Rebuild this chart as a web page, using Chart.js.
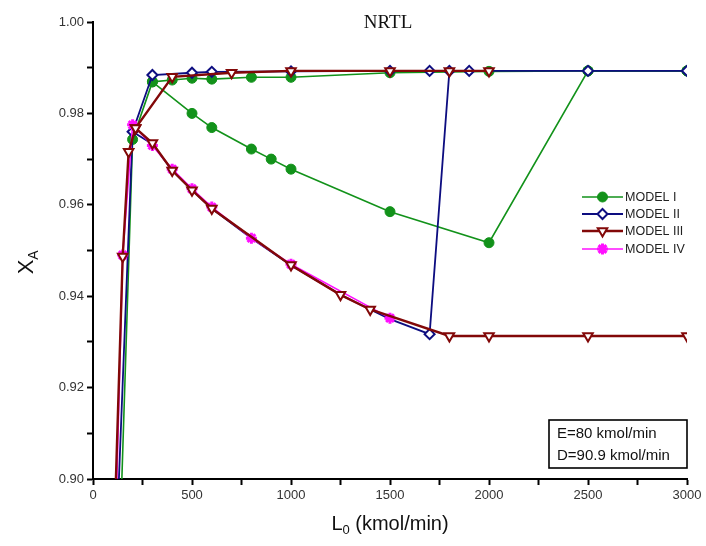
<!DOCTYPE html>
<html lang="en">
<head>
    <meta charset="UTF-8">
    <title>NRTL</title>
    <style>
        html, body { margin: 0; padding: 0; background: #fff; }
        .wrap { position: relative; width: 706px; height: 546px; }
    </style>
</head>
<body>
    <div class="wrap">
        <canvas id="nrtl-chart" width="706" height="546"></canvas>
    </div>

    <script src="https://cdn.jsdelivr.net/npm/chart.js"></script>
    <script>
        // Values (L0 in kmol/min, XA)
        const xTicks = [0, 500, 1000, 1500, 2000, 2500, 3000];
        const yTicks = [0.90, 0.92, 0.94, 0.96, 0.98, 1.00];

        // MODEL I
        const m1UpperL = [145, 200, 300, 400, 500, 600, 800, 1000, 1500, 2000, 2500, 3000];
        const m1UpperX = [0.899, 0.9743, 0.9869, 0.9873, 0.9877, 0.9875, 0.9879, 0.9879, 0.9889, 0.9892, 0.9893, 0.9893];
        const m1LowerL = [300, 500, 600, 800, 900, 1000, 1500, 2000, 2500, 3000];
        const m1LowerX = [0.9869, 0.9800, 0.9769, 0.9722, 0.9700, 0.9678, 0.9585, 0.9517, 0.9893, 0.9893];

        // MODEL II
        const m2UpperL = [130, 200, 300, 500, 600, 1000, 1500, 1700, 1900, 2500, 3000];
        const m2UpperX = [0.899, 0.9760, 0.9884, 0.9889, 0.9891, 0.9892, 0.9893, 0.9893, 0.9893, 0.9893, 0.9893];
        const m2LowerL = [200, 300, 400, 500, 600, 800, 1000, 1250, 1400, 1500, 1700, 1800];
        const m2LowerX = [0.9760, 0.9733, 0.9675, 0.9632, 0.9592, 0.9527, 0.9468, 0.9403, 0.9371, 0.9350, 0.9317, 0.9893];

        // MODEL III
        const m3UpperL = [115, 150, 180, 215, 400, 700, 1000, 1500, 1800, 2000];
        const m3UpperX = [0.899, 0.9487, 0.9716, 0.9768, 0.9880, 0.9889, 0.9893, 0.9893, 0.9893, 0.9893];
        const m3LowerL = [215, 300, 400, 500, 600, 1000, 1250, 1400, 1800, 2000, 2500, 3000];
        const m3LowerX = [0.9768, 0.9735, 0.9675, 0.9632, 0.9592, 0.9468, 0.9403, 0.9371, 0.9313, 0.9313, 0.9313, 0.9313];

        // MODEL IV
        const m4L = [120, 150, 200, 300, 400, 500, 600, 800, 1000, 1500];
        const m4X = [0.899, 0.9490, 0.9775, 0.9730, 0.9678, 0.9635, 0.9595, 0.9527, 0.9470, 0.9352];

        const legendLabels = ['MODEL I', 'MODEL II', 'MODEL III', 'MODEL IV'];

        const GREEN = '#12921a';
        const NAVY = '#0d0d80';
        const BROWN = '#820808';
        const MAGENTA = '#ff10ff';

        function toPoints(ls, xs) {
            return ls.map((l, i) => ({ x: l, y: xs[i] }));
        }

        // hide markers that fall below the plotted range
        function visibleRadius(r) {
            return ctx => (ctx.raw && ctx.raw.y < 0.9) ? 0 : r;
        }

        const styles = [
            { color: GREEN, pointStyle: 'circle', rotation: 0, radius: 5, fill: GREEN, lineWidth: 1.6, pointBorder: 1 },
            { color: NAVY, pointStyle: 'rectRot', rotation: 0, radius: 5, fill: '#fff', lineWidth: 1.8, pointBorder: 2 },
            { color: BROWN, pointStyle: 'triangle', rotation: 180, radius: 5.5, fill: '#fff', lineWidth: 2.4, pointBorder: 2 },
            { color: MAGENTA, pointStyle: 'star', rotation: 0, radius: 5.5, fill: MAGENTA, lineWidth: 1.6, pointBorder: 3 }
        ];

        function makeSet(label, data, s, order, radius) {
            return {
                label: label,
                data: data,
                showLine: true,
                borderColor: s.color,
                backgroundColor: s.fill,
                borderWidth: s.lineWidth,
                pointStyle: s.pointStyle,
                rotation: s.rotation,
                pointRadius: radius || visibleRadius(s.radius),
                pointBackgroundColor: s.fill,
                pointBorderColor: s.color,
                pointBorderWidth: s.pointBorder,
                pointHoverRadius: s.radius,
                tension: 0,
                order: order
            };
        }

        const datasets = [
            makeSet('MODEL III', toPoints(m3LowerL, m3LowerX), styles[2], 1),
            makeSet('MODEL III', toPoints(m3UpperL, m3UpperX), styles[2], 1),
            makeSet('MODEL IV', toPoints(m4L, m4X), styles[3], 2),
            makeSet('MODEL II', toPoints(m2LowerL, m2LowerX), styles[1], 3,
                ctx => (ctx.raw && ctx.raw.x >= 1700) ? styles[1].radius : 0),
            makeSet('MODEL II', toPoints(m2UpperL, m2UpperX), styles[1], 3),
            makeSet('MODEL I', toPoints(m1UpperL, m1UpperX), styles[0], 4),
            makeSet('MODEL I', toPoints(m1LowerL, m1LowerX), styles[0], 4)
        ];

        // titles, legend and the note box
        const decorations = {
            id: 'decorations',
            afterDraw(chart) {
                const ctx = chart.ctx;
                const area = chart.chartArea;
                ctx.save();
                ctx.fillStyle = '#111';

                // title
                ctx.font = '19px "Liberation Serif", serif';
                ctx.textAlign = 'center';
                ctx.textBaseline = 'middle';
                ctx.fillText('NRTL', (area.left + area.right) / 2 - 2, 23);

                // x axis title with subscript
                ctx.textAlign = 'left';
                ctx.textBaseline = 'alphabetic';
                const big = '20px "Liberation Sans", Arial, sans-serif';
                const small = '13px "Liberation Sans", Arial, sans-serif';
                ctx.font = big;
                const wL = ctx.measureText('L').width;
                const wRest = ctx.measureText(' (kmol/min)').width;
                ctx.font = small;
                const w0 = ctx.measureText('0').width;
                let x = (area.left + area.right) / 2 - (wL + w0 + wRest) / 2;
                const by = 530;
                ctx.font = big;
                ctx.fillText('L', x, by);
                ctx.font = small;
                ctx.fillText('0', x + wL, by + 4);
                ctx.font = big;
                ctx.fillText(' (kmol/min)', x + wL + w0, by);

                // y axis title X_A
                ctx.save();
                ctx.translate(33, 262);
                ctx.rotate(-Math.PI / 2);
                ctx.font = '22px "Liberation Sans", Arial, sans-serif';
                const wX = ctx.measureText('X').width;
                ctx.fillText('X', -wX / 2 - 5, 0);
                ctx.font = '14px "Liberation Sans", Arial, sans-serif';
                ctx.fillText('A', wX / 2 - 5, 5);
                ctx.restore();

                // legend
                const rows = [197, 214, 231, 249];
                styles.forEach((s, i) => {
                    const y = rows[i];
                    ctx.strokeStyle = s.color;
                    ctx.lineWidth = s.lineWidth;
                    ctx.beginPath();
                    ctx.moveTo(582, y);
                    ctx.lineTo(623, y);
                    ctx.stroke();
                    ctx.fillStyle = s.fill;
                    ctx.lineWidth = s.pointBorder;
                    Chart.helpers.drawPoint(ctx, {
                        pointStyle: s.pointStyle,
                        rotation: s.rotation,
                        radius: s.radius,
                        borderWidth: s.pointBorder
                    }, 602.5, y);
                    ctx.fillStyle = '#222';
                    ctx.font = '12.5px "Liberation Sans", Arial, sans-serif';
                    ctx.textBaseline = 'middle';
                    ctx.fillText(legendLabels[i], 625, y + 1);
                });

                // note box
                ctx.strokeStyle = '#000';
                ctx.lineWidth = 1.6;
                ctx.strokeRect(549, 420, 138, 48);
                ctx.fillStyle = '#111';
                ctx.font = '15px "Liberation Sans", Arial, sans-serif';
                ctx.textBaseline = 'middle';
                ctx.fillText('E=80 kmol/min', 557, 434);
                ctx.fillText('D=90.9 kmol/min', 557, 456);

                ctx.restore();
            }
        };

        const tickFont = { family: '"Liberation Sans", Arial, sans-serif', size: 13 };

        new Chart(document.getElementById('nrtl-chart').getContext('2d'), {
            type: 'scatter',
            data: { datasets: datasets },
            options: {
                responsive: false,
                animation: false,
                layout: { padding: { left: 0, right: 19, top: 22, bottom: 0 } },
                plugins: {
                    legend: { display: false },
                    tooltip: { enabled: false },
                    title: { display: false }
                },
                scales: {
                    x: {
                        type: 'linear',
                        min: 0,
                        max: 3000,
                        afterFit: s => { s.height = 67; },
                        ticks: {
                            stepSize: 250,
                            color: '#333',
                            font: tickFont,
                            padding: 3,
                            maxRotation: 0,
                            autoSkip: false,
                            callback: v => xTicks.includes(v) ? String(v) : ''
                        },
                        grid: { drawOnChartArea: false, color: '#000', tickLength: 6, tickWidth: 2 },
                        border: { color: '#000', width: 2 }
                    },
                    y: {
                        type: 'linear',
                        min: 0.9,
                        max: 1.0,
                        afterFit: s => { s.width = 93; },
                        ticks: {
                            stepSize: 0.01,
                            color: '#333',
                            font: tickFont,
                            padding: 3,
                            autoSkip: false,
                            callback: v => yTicks.some(t => Math.abs(t - v) < 1e-6) ? v.toFixed(2) : ''
                        },
                        grid: { drawOnChartArea: false, color: '#000', tickLength: 6, tickWidth: 2 },
                        border: { color: '#000', width: 2 }
                    }
                }
            },
            plugins: [decorations]
        });
    </script>
</body>
</html>
